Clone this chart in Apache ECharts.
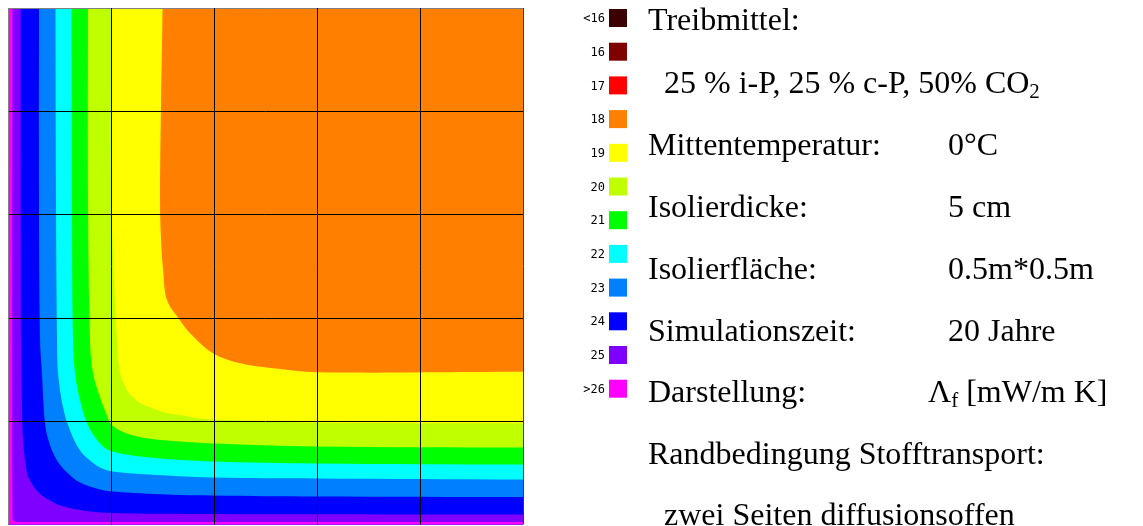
<!DOCTYPE html>
<html>
<head>
<meta charset="utf-8">
<script src="https://cdn.jsdelivr.net/npm/echarts@6/dist/echarts.min.js"></script>
<style>
  html, body { margin: 0; padding: 0; background: #ffffff; }
  #chart { width: 1143px; height: 526px; }
</style>
</head>
<body>
<div id="chart"></div>
<script>
// Isolines of the cell-gas conductivity Λf (mW/m K) over the board, in mm.
// Every isoline starts at the top edge, bends round the lower-left corner
// (the two open sides) and ends at the right edge.
const iso19 = [[150.0,500],[148.6,410.9],[147.6,314.0],[148.6,275.2],[150.6,246.2],[154.4,217.1],[167.0,197.7],[176.7,185.1],[199.1,165.7],[225.3,156.0],[257.3,151.2],[300.0,147.3],[500,147.8]];
const iso20 = [[100.5,500],[100.0,333.3],[102.9,236.4],[105.8,178.3],[108.7,146.3],[115.5,129.8],[121.4,123.1],[128.2,117.3],[137.9,113.4],[154.4,107.6],[169.9,105.6],[186.4,102.7],[218.5,100.8],[283.5,98.8],[500,97.9]];
const iso21 = [[77.7,500],[77.7,314.0],[79.6,178.3],[82.5,146.3],[89.3,123.1],[95.2,107.6],[101.0,95.9],[121.4,86.2],[154.4,81.4],[200.0,78.5],[300.0,75.6],[500,74.6]];
const iso22 = [[61.7,500],[62.1,314.0],[63.1,178.3],[65.1,146.3],[69.9,120.2],[77.7,95.9],[89.3,78.5],[101.0,70.7],[137.9,64.9],[200.0,61.0],[300.0,59.1],[500,58.1]];
const iso23 = [[46.1,500],[46.6,314.0],[47.6,178.3],[48.6,146.3],[53.4,113.4],[60.2,91.1],[69.9,71.7],[79.6,62.0],[89.3,55.2],[101.0,51.4],[154.4,47.5],[200.0,45.5],[300.0,44.6],[500,43.6]];
const iso24 = [[30.1,500],[30.1,314.0],[31.1,178.3],[33.0,146.3],[35.9,97.9],[40.8,76.6],[47.6,62.0],[57.3,50.4],[69.9,40.7],[89.3,33.9],[101.0,32.0],[154.4,29.1],[200.0,28.1],[300.0,27.1],[500,26.6]];
const iso25 = [[12.3,500],[12.6,178.7],[13.6,113.7],[14.6,81.4],[18.4,49.4],[21.4,42.6],[26.2,34.9],[33.0,28.1],[40.8,23.3],[50.5,18.4],[72.8,13.6],[101.0,11.1],[186.0,10.2],[500,9.7]];
const iso26 = [[4.4,500],[4.4,6.0],[6.0,3.5],[10.0,2.5],[500,2.5]];

const isoLevels = [19, 20, 21, 22, 23, 24, 25, 26];
const isoLines  = [iso19, iso20, iso21, iso22, iso23, iso24, iso25, iso26];

// Colour classes of the scale
const legendLabels = ['<16', '16', '17', '18', '19', '20', '21', '22', '23', '24', '25', '>26'];
const legendColors = ['#3c0000', '#800000', '#ff0000', '#ff8000', '#ffff00', '#c0ff00',
                      '#00ff00', '#00ffff', '#0080ff', '#0000ff', '#8000ff', '#ff00ff'];

// Side panel text
const infoHead   = 'Treibmittel:';
const infoGas    = '  25 % i-P, 25 % c-P, 50% CO{sub|2}';
const infoLabels = ['Mittentemperatur:', 'Isolierdicke:', 'Isolierfläche:', 'Simulationszeit:', 'Darstellung:'];
const infoValues = ['0°C', '5 cm', '0.5m*0.5m', '20 Jahre', 'Λ{sub|f} [mW/m K]'];
const infoFoot   = ['Randbedingung Stofftransport:', '  zwei Seiten diffusionsoffen'];

const SIDE = 500;         // board edge, mm
const GRID_STEP = 100;    // raster, mm
const PAD = 150;          // fill ring reaches past the board; the grid clips it

const colorOf = (lv) => legendColors[legendLabels.indexOf(String(lv))] || legendColors[legendColors.length - 1];
const baseColor = colorOf(18);

const chart = echarts.init(document.getElementById('chart'), null, { renderer: 'canvas' });

const serif = '"Liberation Serif", "Times New Roman", serif';
const textGraphics = [];
const rowY = [22, 85, 147, 209, 271, 333, 394, 456, 517];
const richSub = { sub: { fontSize: 21, fontFamily: serif, verticalAlign: 'bottom', lineHeight: 16, fill: '#000' } };
function addText(str, x, y) {
  textGraphics.push({
    type: 'text', x: x, y: y, z: 10,
    style: { text: str, fontFamily: serif, fontSize: 32, fill: '#000', verticalAlign: 'middle', lineHeight: 35, rich: richSub }
  });
}
addText(infoHead, 648, rowY[0]);
addText(infoGas, 648, rowY[1]);
infoLabels.forEach((t, i) => addText(t, 648, rowY[2 + i]));
infoValues.forEach((t, i) => addText(t, i === 4 ? 928 : 948, rowY[2 + i]));
infoFoot.forEach((t, i) => addText(t, 648, rowY[7 + i]));

// Colour scale boxes with their class labels
const legendGraphics = [];
legendLabels.forEach((lab, i) => {
  const top = 9 + i * 33.7;
  legendGraphics.push({
    type: 'rect', x: 609, y: top, z: 10,
    shape: { width: 18, height: 18 },
    style: { fill: legendColors[i] }
  });
  legendGraphics.push({
    type: 'text', x: 605, y: top + 10, z: 10,
    style: { text: lab, font: '12px "DejaVu Sans Mono", monospace', fill: '#000', align: 'right', verticalAlign: 'middle' }
  });
});

const option = {
  animation: false,
  backgroundColor: '#ffffff',
  grid: { left: 8, top: 8, width: 515, height: 516.5, show: true, backgroundColor: baseColor, borderWidth: 0 },
  xAxis: {
    type: 'value', min: 0, max: SIDE, interval: GRID_STEP, z: 5,
    axisLabel: { show: false }, axisTick: { show: false }, axisLine: { show: false },
    splitLine: { show: true, lineStyle: { width: 1, color: ['#808080', '#000000', '#000000', '#000000', '#000000', '#3a3a3a'] } }
  },
  yAxis: {
    type: 'value', min: 0, max: SIDE, interval: GRID_STEP, z: 5,
    axisLabel: { show: false }, axisTick: { show: false }, axisLine: { show: false },
    splitLine: { show: true, lineStyle: { width: 1, color: ['rgba(0,0,0,0)', '#000000', '#000000', '#000000', '#000000', '#808080'] } }
  },
  series: [{
    type: 'custom',
    coordinateSystem: 'cartesian2d',
    z: 2,
    silent: true,
    clip: true,
    data: isoLevels.map((lv, i) => [i]),
    renderItem: function (params, api) {
      const k = params.dataIndex;
      const line = isoLines[k];
      const first = line[0], last = line[line.length - 1];
      const ring = [[-PAD, SIDE + PAD], [first[0], SIDE + PAD]]
        .concat(line)
        .concat([[SIDE + PAD, last[1]], [SIDE + PAD, -PAD], [-PAD, -PAD]]);
      return {
        type: 'polygon',
        shape: { points: ring.map(p => api.coord(p)), smooth: 0.35 },
        style: { fill: colorOf(isoLevels[k]), stroke: null }
      };
    }
  }],
  graphic: { elements: legendGraphics.concat(textGraphics) }
};

chart.setOption(option);
</script>
</body>
</html>
